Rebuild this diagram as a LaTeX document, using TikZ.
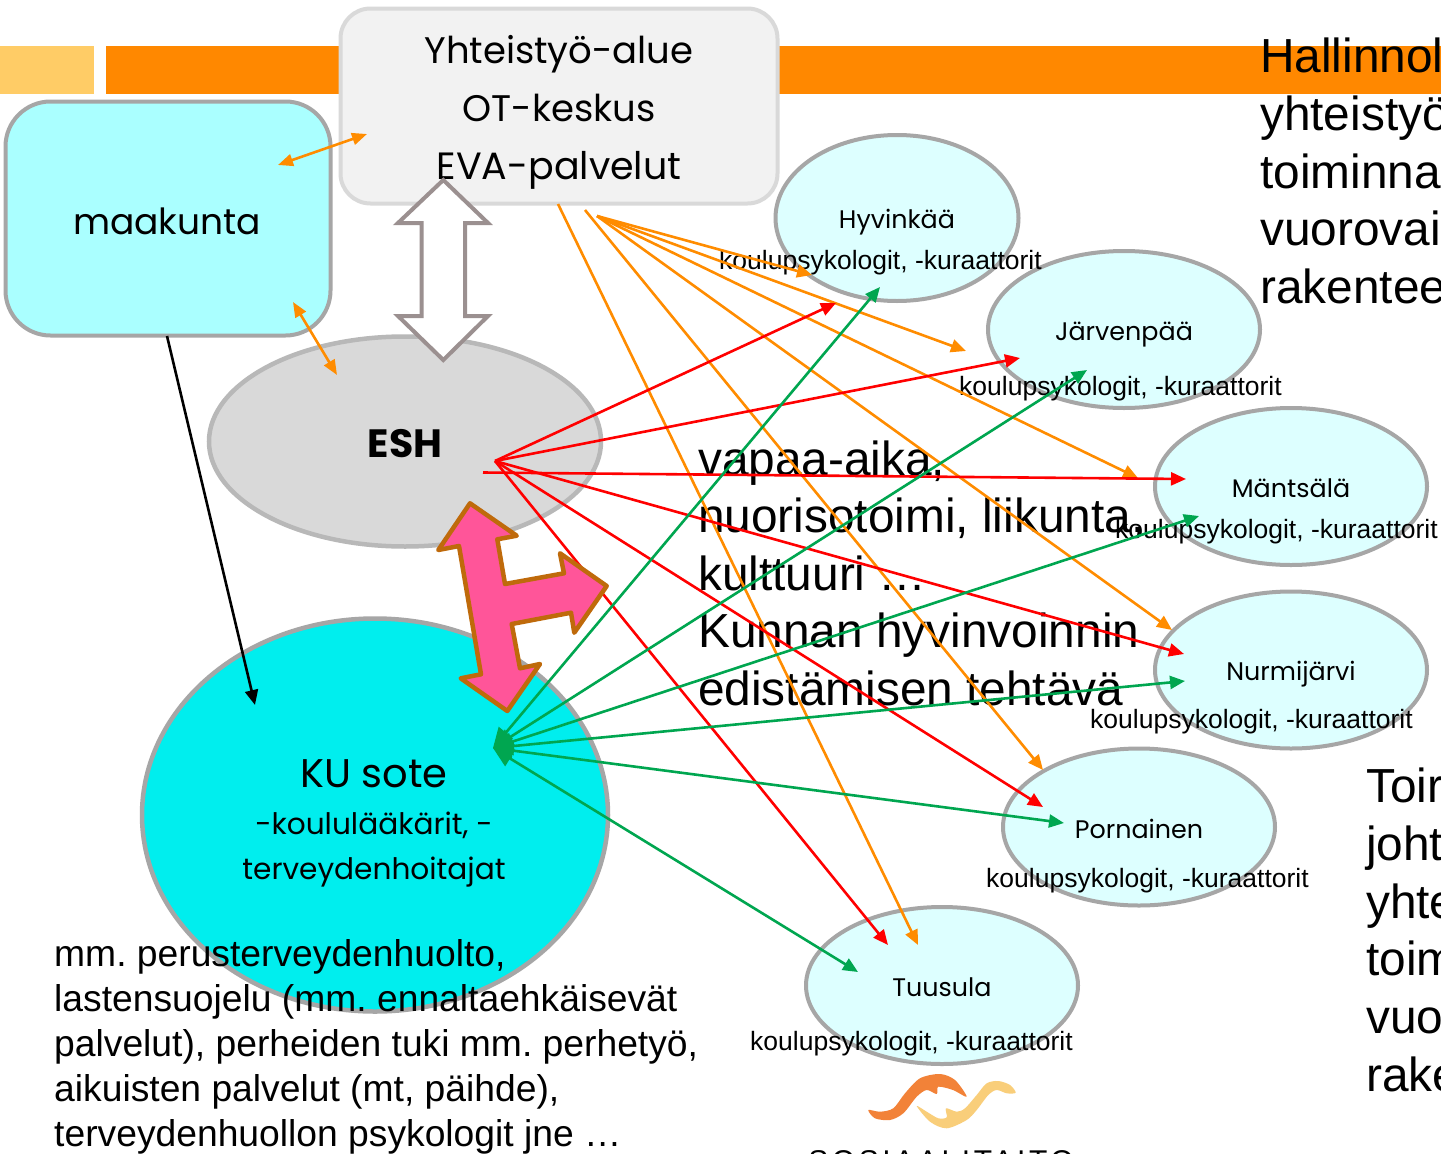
\documentclass[tikz,border=0pt]{standalone}
\usepackage{fontspec}
\setmainfont{Liberation Sans}
\newfontfamily\gothic{Poppins}
\usetikzlibrary{arrows.meta,shapes.geometric}
\definecolor{bandO}{HTML}{FF8800}
\definecolor{bandY}{HTML}{FFCC66}
\definecolor{edgeG}{HTML}{A6A6A6}
\definecolor{aqua}{HTML}{AAFFFF}
\definecolor{pale}{HTML}{DDFFFF}
\definecolor{cyanK}{HTML}{00EEEE}
\definecolor{lnO}{HTML}{FF8C00}
\definecolor{lnG}{HTML}{00A650}
\definecolor{pinkA}{HTML}{FF5599}
\definecolor{brownA}{HTML}{BF6A0B}
\definecolor{greyA}{HTML}{9B9090}
\definecolor{logoO}{HTML}{F28238}
\definecolor{logoY}{HTML}{F9CE7A}
\tikzset{
  x=1pt,y=-1pt,
  town/.style={ellipse,draw=edgeG,line width=4pt,fill=pale,minimum width=272pt,minimum height=157pt,inner sep=0pt},
  townname/.style={font=\gothic\fontsize{25.4}{30}\selectfont,inner sep=0pt,anchor=base},
  sublabel/.style={font=\fontsize{26.5}{31}\selectfont,inner sep=0pt,anchor=base west},
  bigtext/.style={font=\fontsize{47.8}{57.6}\selectfont,inner sep=0pt,anchor=base west,align=left},
  boxtext/.style={font=\gothic\fontsize{37}{45}\selectfont,inner sep=0pt,anchor=base},
  lowtext/.style={font=\fontsize{37.25}{45}\selectfont,inner sep=0pt,anchor=base west},
  orangeline/.style={draw=lnO,line width=2.6pt,-{Triangle[length=15pt,width=13pt]}},
  orangedouble/.style={draw=lnO,line width=2.6pt,{Triangle[length=15pt,width=12pt]}-{Triangle[length=15pt,width=12pt]}},
  redline/.style={draw=red,line width=2.6pt,-{Triangle[length=15pt,width=13pt]}},
  greenline/.style={draw=lnG,line width=2.6pt,{Triangle[length=20pt,width=18pt]}-{Triangle[length=15pt,width=13pt]}},
}
\begin{document}
\frenchspacing
\begin{tikzpicture}
\useasboundingbox (0,0) rectangle (1441,1154);
\clip (0,0) rectangle (1441,1154);
\fill[white] (0,0) rectangle (1441,1154);
% band
\fill[bandY] (0,46) rectangle (94,94);
\fill[bandO] (106,46) rectangle (1441,94);
% shapes
\node[draw=edgeG,line width=4pt,fill=aqua,rounded corners=45pt,minimum width=325pt,minimum height=234pt,inner sep=0pt] (maak) at (168,218.5) {};
\node[draw=black!15,line width=4pt,fill=black!5,rounded corners=30pt,minimum width=437pt,minimum height=195pt,inner sep=0pt] (yht) at (559,106) {};
\node[ellipse,draw=edgeG!80,line width=4.5pt,fill=black!15,minimum width=392pt,minimum height=210pt,inner sep=0pt] (esh) at (405,441.5) {};
\node[ellipse,draw=edgeG,line width=4.5pt,fill=cyanK,minimum width=466pt,minimum height=393pt,inner sep=0pt] (ku) at (375,815) {};
\node[town,minimum width=243pt,minimum height=166pt] (hyv) at (897,218) {};
\node[town] (jar) at (1124,329.5) {};
\node[town] (man) at (1291,486.5) {};
\node[town] (nur) at (1291,670) {};
\node[town] (por) at (1139,827) {};
\node[town] (tuu) at (942,985.5) {};
% box texts
\node[boxtext] (t1) at (559,63) {Yhteistyö-alue};
\node[boxtext] (t2) at (559,121) {OT-keskus};
\node[boxtext,font=\gothic\fontsize{38}{45}\selectfont] (t3) at (559,179) {EVA-palvelut};
\node[boxtext,font=\gothic\fontsize{36}{45}\selectfont] (tm) at (167,234) {maakunta};
\node[inner sep=0pt,anchor=base,font=\gothic\bfseries\fontsize{39.5}{45}\selectfont] (te) at (405,457) {ESH};
\node[boxtext,font=\gothic\fontsize{40}{45}\selectfont] (tk) at (374,787) {KU sote};
\node[boxtext,font=\gothic\fontsize{29.6}{36}\selectfont] (tk2) at (374,834) {-koululääkärit, -};
\node[boxtext,font=\gothic\fontsize{29.6}{36}\selectfont] (tk3) at (374,879) {terveydenhoitajat};
% town labels
\node[townname] (n1) at (897,228) {Hyvinkää};
\node[townname] (n2) at (1124,340) {Järvenpää};
\node[townname] (n3) at (1291,497) {Mäntsälä};
\node[townname] (n4) at (1291,680) {Nurmijärvi};
\node[townname] (n5) at (1139,838) {Pornainen};
\node[townname] (n6) at (942,996) {Tuusula};
\node[sublabel] (s1) at (719,269) {koulupsykologit, -kuraattorit};
\node[sublabel] (s2) at (959,395) {koulupsykologit, -kuraattorit};
\node[sublabel] (s3) at (1115,538) {koulupsykologit, -kuraattorit};
\node[sublabel] (s4) at (1090,728) {koulupsykologit, -kuraattorit};
\node[sublabel] (s5) at (986,887) {koulupsykologit, -kuraattorit};
\node[sublabel] (s6) at (750,1050) {koulupsykologit, -kuraattorit};
% large texts
\node[bigtext] (b1) at (698,475) {vapaa-aika,};
\node[bigtext] (b2) at (698,532) {nuorisotoimi, liikunta,};
\node[bigtext] (b3) at (698,590) {kulttuuri …};
\node[bigtext] (b4) at (698,647) {Kunnan hyvinvoinnin};
\node[bigtext] (b5) at (698,705) {edistämisen tehtävä};
\node[bigtext] (r1) at (1260,72) {Hallinnol};
\node[bigtext] (r2) at (1260,130) {yhteistyö};
\node[bigtext] (r3) at (1260,188) {toiminna};
\node[bigtext] (r4) at (1260,245) {vuorovai};
\node[bigtext] (r5) at (1260,303) {rakentee};
\node[bigtext] (q1) at (1366,802) {Toir};
\node[bigtext] (q2) at (1366,860) {joht};
\node[bigtext] (q3) at (1366,918) {yhte};
\node[bigtext] (q4) at (1366,975) {toim};
\node[bigtext] (q5) at (1366,1033) {vuo};
\node[bigtext] (q6) at (1366,1091) {rake};
\node[inner sep=0pt,anchor=base,font=\fontsize{30}{36}\selectfont] (logotxt) at (941,1171) {\addfontfeature{LetterSpace=12}SOSIAALITAITO};
% bottom text
\node[lowtext] (lowa) at (54,966) {mm. perusterveydenhuolto,};
\node[lowtext] (lowb) at (54,1011) {lastensuojelu (mm. ennaltaehkäisevät};
\node[lowtext] (lowc) at (54,1056) {palvelut), perheiden tuki mm. perhetyö,};
\node[lowtext] (lowd) at (54,1101) {aikuisten palvelut (mt, päihde),};
\node[lowtext] (lowe) at (54,1146) {terveydenhuollon psykologit jne …};
% connector ends
\coordinate (oA) at (558,204);
\coordinate (oB) at (585,210);
\coordinate (oC) at (597,216);
\coordinate (o1) at (918,945);
\coordinate (o2) at (1043,770);
\coordinate (o3) at (1172,630);
\coordinate (o4) at (1138,478);
\coordinate (o5) at (966,351);
\coordinate (o6) at (812,275);
\coordinate (rA) at (495,461);
\coordinate (rB) at (483,472.5);
\coordinate (r1e) at (836,303);
\coordinate (r2e) at (1020,358);
\coordinate (r3e) at (1186,479);
\coordinate (r4e) at (1184,654);
\coordinate (r5e) at (1043,807);
\coordinate (r6e) at (888,945);
\coordinate (gA) at (493,748);
\coordinate (g1) at (880,287);
\coordinate (g2) at (1087,370);
\coordinate (g3) at (1199,516);
\coordinate (g4) at (1185,681);
\coordinate (g5) at (1064,823);
\coordinate (g6) at (858,972);
\coordinate (dA1) at (278,165);
\coordinate (dA2) at (367,134);
\coordinate (dB1) at (293,302);
\coordinate (dB2) at (337,375);
\coordinate (kA) at (167,336);
\coordinate (kB) at (255,705);
% connectors
\draw[orangeline] (oA) -- (o1);
\draw[orangeline] (oB) -- (o2);
\foreach \e in {o3,o4,o5,o6} \draw[orangeline] (oC) -- (\e);
\foreach \e in {r1e,r2e,r4e,r5e,r6e} \draw[redline] (rA) -- (\e);
\draw[redline] (rB) -- (r3e);
\foreach \e in {g1,g2,g3,g4,g5,g6} \draw[greenline] (gA) -- (\e);
\draw[orangedouble] (dA1) -- (dA2);
\draw[orangedouble] (dB1) -- (dB2);
\draw[black,line width=2.6pt,-{Triangle[length=15pt,width=13pt]}] (kA) -- (kB);
% block arrows
\draw[greyA,line width=4pt,fill=white,line join=miter] (443.3,180) -- (398,223) -- (421.7,223) -- (421.7,316) -- (398,316) -- (443.3,360) -- (488,316) -- (465,316) -- (465,223) -- (488,223) -- cycle;
\draw[brownA,line width=4.5pt,fill=pinkA,line join=round] (470,503.3) -- (516.7,535.7) -- (497.3,539.3) -- (505,584) -- (564,573.3) -- (560,553.3) -- (606.7,586) -- (574.3,632.7) -- (571,612.7) -- (511.7,624) -- (520,668.3) -- (540,664) -- (507.3,711) -- (460.7,678.3) -- (481,674.3) -- (459,546) -- (438.3,550) -- cycle;
% logo
\fill[logoO] plot[smooth cycle,tension=0.5] coordinates {(868.3,1110) (880,1111.7) (893.3,1108.3) (905,1093.3) (920,1078.3) (940,1074) (955,1080) (966.7,1096.7) (953,1090) (938.3,1086.7) (936.7,1094) (926.7,1090) (916.7,1096.7) (903.3,1113.3) (890,1120) (875,1118.3)};
\fill[logoY] plot[smooth cycle,tension=0.5] coordinates {(916.7,1106) (926.7,1111.7) (938.3,1118.3) (946.7,1117.3) (946,1108.3) (956.7,1111.7) (965,1108.3) (976.7,1095) (986.7,1083.3) (998.3,1081) (1010,1085) (1015.7,1092.7) (1006.7,1093.3) (996.7,1090) (988.3,1095) (976.7,1110) (966.7,1120) (946.7,1128.3) (930,1121.7)};
\end{tikzpicture}
\end{document}
